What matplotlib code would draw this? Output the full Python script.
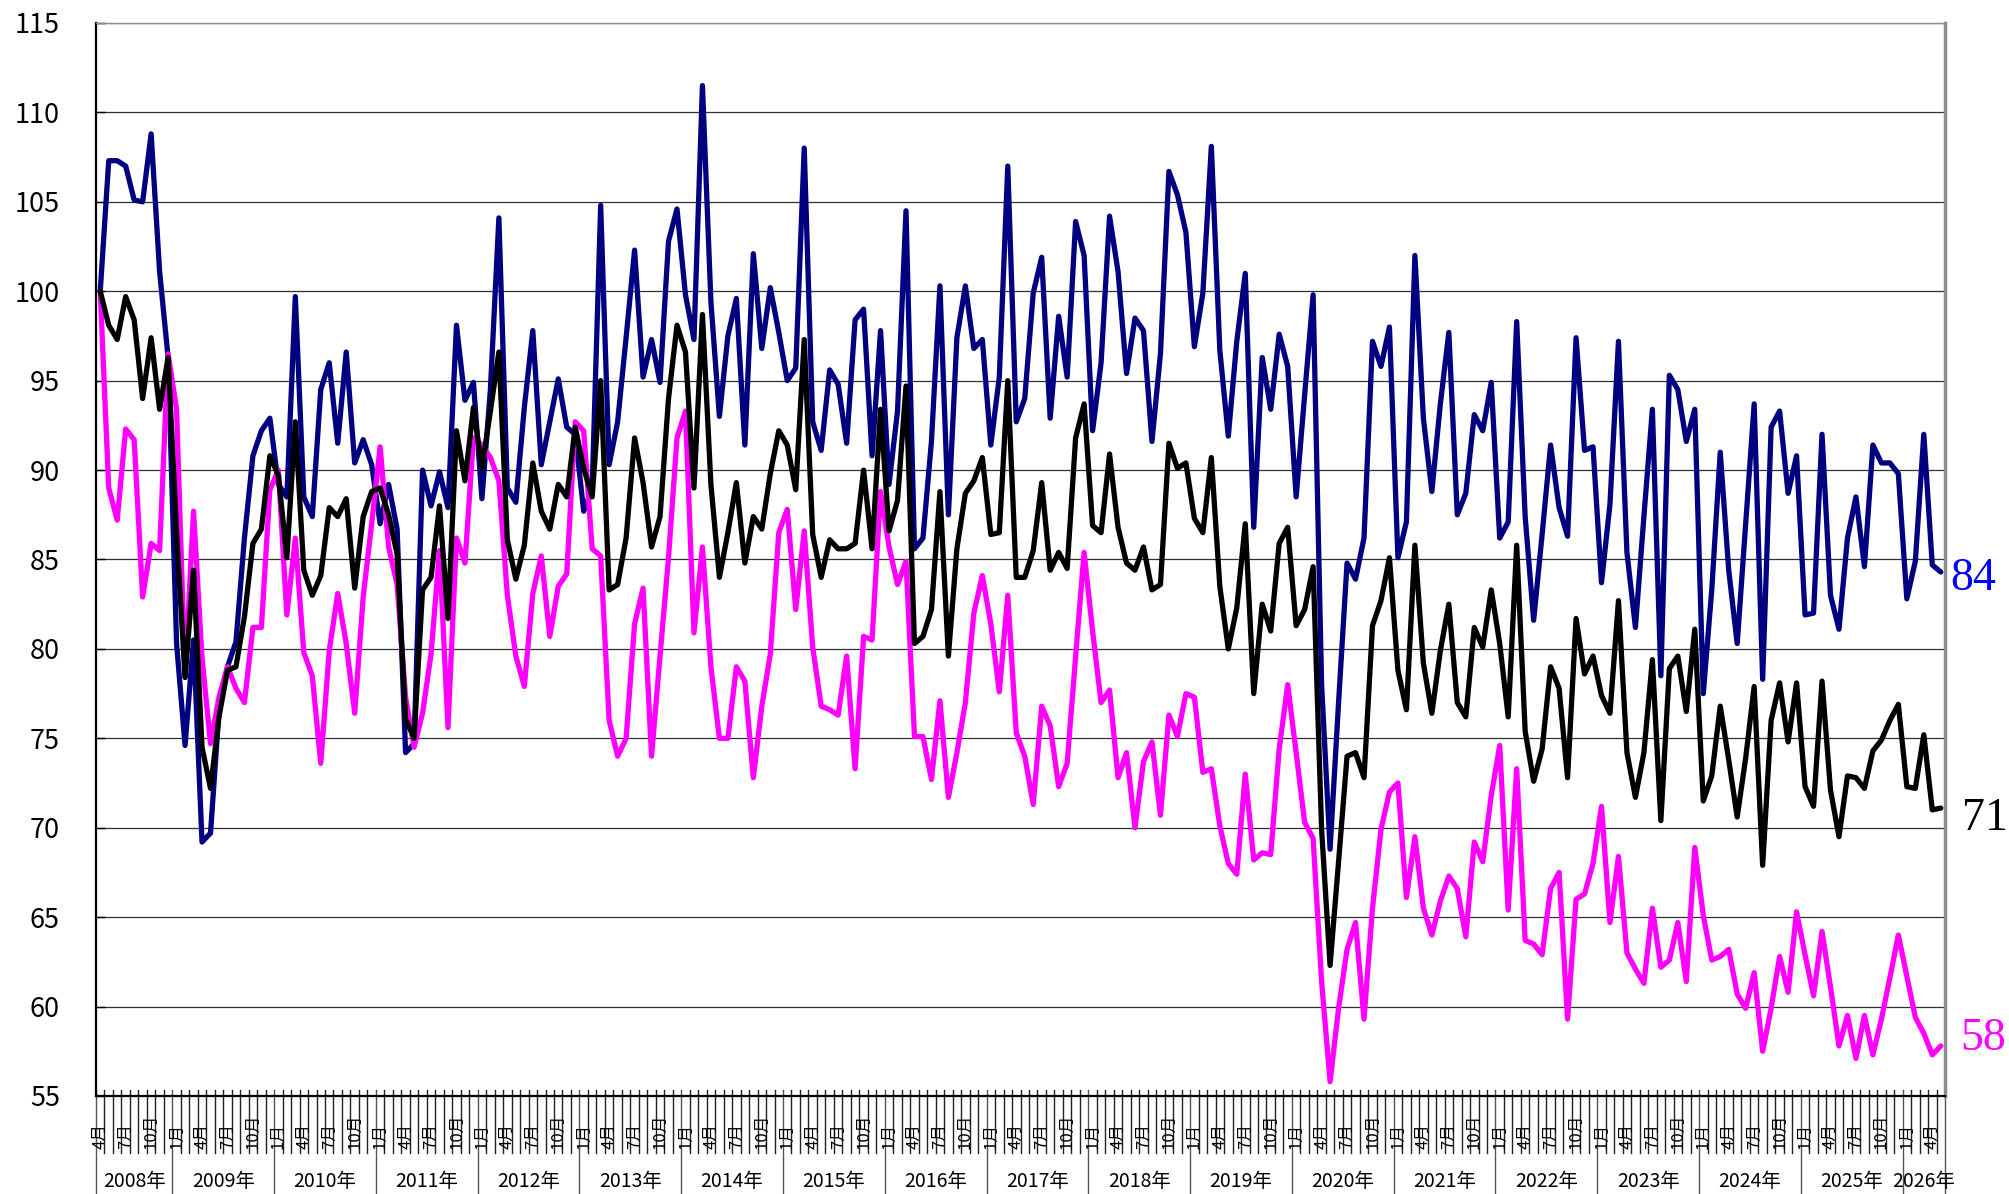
import numpy as np
import matplotlib
matplotlib.use("Agg")
import matplotlib.pyplot as plt

plt.rcParams['font.family'] = ['Noto Sans CJK JP', 'DejaVu Sans']

# monthly index, 2008年4月 = 100, through 2026年5月
navy = [100.0, 107.3, 107.3, 107.0, 105.1, 105.0, 108.8, 101.1, 96.3, 80.3, 74.6, 80.5, 69.2, 69.7, 76.5, 79.0, 80.4, 86.2, 90.8, 92.2, 92.9, 89.2, 88.5, 99.7, 88.5, 87.4, 94.5, 96.0,
        91.5, 96.6, 90.4, 91.7, 90.3, 87.0, 89.2, 86.7, 74.2, 74.7, 90.0, 88.0, 89.9, 87.9, 98.1, 93.9, 94.9, 88.4, 94.5, 104.1, 89.0, 88.2, 93.5, 97.8, 90.3, 92.7, 95.1,
        92.4, 92.0, 87.7, 89.0, 104.8, 90.3, 92.7, 97.4, 102.3, 95.2, 97.3, 94.9, 102.8, 104.6, 99.8, 97.3, 111.5, 99.4, 93.0, 97.5, 99.6, 91.4, 102.1, 96.8, 100.2, 97.7, 95.0,
        95.7, 108.0, 92.7, 91.1, 95.6, 94.8, 91.5, 98.4, 99.0, 90.8, 97.8, 89.2, 93.3, 104.5, 85.6, 86.2, 91.6, 100.3, 87.5, 97.4, 100.3, 96.8, 97.3, 91.4, 95.2, 107.0, 92.7,
        94.0, 99.9, 101.9, 92.9, 98.6, 95.2, 103.9, 102.0, 92.2, 96.0, 104.2, 101.1, 95.4, 98.5, 97.8, 91.6, 96.5, 106.7, 105.4, 103.3, 96.9, 99.9, 108.1, 96.7, 91.9, 97.2, 101.0,
        86.8, 96.3, 93.4, 97.6, 95.8, 88.5, 94.2, 99.8, 78.0, 68.8, 77.0, 84.8, 83.9, 86.2, 97.2, 95.8, 98.0, 85.1, 87.1, 102.0, 92.9, 88.8, 93.7, 97.7, 87.5, 88.7, 93.1,
        92.2, 94.9, 86.2, 87.1, 98.3, 87.4, 81.6, 86.4, 91.4, 87.9, 86.3, 97.4, 91.1, 91.3, 83.7, 88.1, 97.2, 85.4, 81.2, 87.4, 93.4, 78.5, 95.3, 94.5, 91.6, 93.4, 77.5,
        83.3, 91.0, 84.4, 80.3, 87.0, 93.7, 78.3, 92.4, 93.3, 88.7, 90.8, 81.9, 82.0, 92.0, 83.0, 81.1, 86.2, 88.5, 84.6, 91.4, 90.4, 90.4, 89.8, 82.8, 84.9, 92.0, 84.7, 84.3]

black = [100.0, 98.1, 97.3, 99.7, 98.4, 94.0, 97.4, 93.4, 96.3, 86.5, 78.4, 84.4, 74.5, 72.2, 76.2, 78.8, 79.0, 81.8, 85.9, 86.7, 90.8, 89.7, 85.1, 92.7, 84.4, 83.0, 84.1, 87.9,
         87.4, 88.4, 83.4, 87.4, 88.8, 89.0, 87.5, 85.3, 76.1, 75.0, 83.3, 84.0, 88.0, 81.7, 92.2, 89.4, 93.5, 90.1, 93.3, 96.6, 86.1, 83.9, 85.8, 90.4, 87.7, 86.7, 89.2,
         88.5, 92.4, 90.1, 88.5, 95.0, 83.3, 83.6, 86.2, 91.8, 89.3, 85.7, 87.4, 94.0, 98.1, 96.6, 89.0, 98.7, 89.2, 84.0, 86.5, 89.3, 84.8, 87.4, 86.7, 89.8, 92.2, 91.4,
         88.9, 97.3, 86.4, 84.0, 86.1, 85.6, 85.6, 85.9, 90.0, 85.6, 93.4, 86.6, 88.3, 94.7, 80.3, 80.7, 82.2, 88.8, 79.6, 85.6, 88.7, 89.4, 90.7, 86.4, 86.5, 95.0, 84.0,
         84.0, 85.5, 89.3, 84.4, 85.4, 84.5, 91.8, 93.7, 86.9, 86.5, 90.9, 86.8, 84.8, 84.4, 85.7, 83.3, 83.6, 91.5, 90.1, 90.4, 87.3, 86.5, 90.7, 83.5, 80.0, 82.3, 87.0,
         77.5, 82.5, 81.0, 85.9, 86.8, 81.3, 82.2, 84.6, 69.9, 62.3, 68.1, 74.0, 74.2, 72.8, 81.3, 82.7, 85.1, 78.8, 76.6, 85.8, 79.2, 76.4, 79.9, 82.5, 77.0, 76.2, 81.2,
         80.1, 83.3, 80.3, 76.2, 85.8, 75.4, 72.6, 74.4, 79.0, 77.8, 72.8, 81.7, 78.6, 79.6, 77.4, 76.4, 82.7, 74.2, 71.7, 74.2, 79.4, 70.4, 78.9, 79.6, 76.5, 81.1, 71.5,
         72.9, 76.8, 73.8, 70.6, 73.9, 77.9, 67.9, 76.0, 78.1, 74.8, 78.1, 72.3, 71.2, 78.2, 72.1, 69.5, 72.9, 72.8, 72.2, 74.3, 74.9, 76.0, 76.9, 72.3, 72.2, 75.2, 71.0, 71.1]

magenta = [100.0, 89.0, 87.2, 92.3, 91.7, 82.9, 85.9, 85.5, 96.5, 93.4, 78.5, 87.7, 79.5, 74.7, 77.3, 79.0, 77.8, 77.0, 81.2, 81.2, 88.9, 90.0, 81.9, 86.2, 79.8, 78.5, 73.6, 79.9,
           83.1, 80.3, 76.4, 82.9, 87.0, 91.3, 85.7, 83.6, 77.3, 74.5, 76.4, 79.7, 85.5, 75.6, 86.2, 84.8, 91.8, 91.4, 90.7, 89.4, 83.0, 79.6, 77.9, 83.1, 85.2, 80.7, 83.5,
           84.2, 92.7, 92.2, 85.6, 85.2, 76.0, 74.0, 75.0, 81.4, 83.4, 74.0, 79.6, 85.1, 91.8, 93.3, 80.9, 85.7, 79.0, 75.0, 75.0, 79.0, 78.2, 72.8, 76.8, 79.7, 86.5, 87.8,
           82.2, 86.6, 80.1, 76.8, 76.6, 76.3, 79.6, 73.3, 80.7, 80.5, 88.8, 85.7, 83.6, 84.9, 75.1, 75.1, 72.7, 77.1, 71.7, 74.2, 77.0, 82.0, 84.1, 81.4, 77.6, 83.0, 75.3,
           74.0, 71.3, 76.8, 75.7, 72.3, 73.6, 79.6, 85.4, 81.0, 77.0, 77.7, 72.8, 74.2, 70.0, 73.7, 74.8, 70.7, 76.3, 75.1, 77.5, 77.3, 73.1, 73.3, 70.1, 68.0, 67.4, 73.0,
           68.2, 68.6, 68.5, 74.4, 78.0, 74.2, 70.3, 69.4, 61.4, 55.8, 59.9, 63.2, 64.7, 59.3, 65.5, 69.9, 72.0, 72.5, 66.1, 69.5, 65.5, 64.0, 65.9, 67.3, 66.6, 63.9, 69.2,
           68.1, 71.8, 74.6, 65.4, 73.3, 63.7, 63.5, 62.9, 66.6, 67.5, 59.3, 66.0, 66.3, 68.0, 71.2, 64.7, 68.4, 63.0, 62.1, 61.3, 65.5, 62.2, 62.6, 64.7, 61.4, 68.9, 65.1,
           62.6, 62.8, 63.2, 60.7, 59.9, 61.9, 57.5, 59.9, 62.8, 60.8, 65.3, 62.9, 60.6, 64.2, 61.1, 57.8, 59.5, 57.1, 59.5, 57.3, 59.3, 61.6, 64.0, 61.7, 59.4, 58.5, 57.3, 57.8]

end_labels = ['84', '71', '58']
start_year, start_month = 2008, 4

n = len(navy)
x = np.arange(n)
month_of = [(start_month - 1 + i) % 12 + 1 for i in range(n)]
year_of = [start_year + (start_month - 1 + i) // 12 for i in range(n)]

fig = plt.figure(figsize=(20.09, 11.94), dpi=100)
ax = fig.add_axes([96 / 2009, 1 - 1096 / 1194, 1849 / 2009, 1073 / 1194])

line_kw = dict(lw=3.8, solid_joinstyle='round', solid_capstyle='round')
ax.plot(x, navy, color='#000080', zorder=3, **line_kw)
ax.plot(x, magenta, color='#FF00FF', zorder=4, **line_kw)
ax.plot(x, black, color='#000000', zorder=5, **line_kw)

ax.set_xlim(-0.5, n - 0.5)
ax.set_ylim(55, 115)
ax.set_yticks(np.arange(55, 116, 5))
ax.yaxis.grid(True, color='#303030', lw=0.9)
ax.set_axisbelow(True)
ax.tick_params(axis='y', direction='in', length=6.5, width=1, labelsize=19.5, pad=26)
ax.set_xticks([])

for side in ['left', 'bottom']:
    ax.spines[side].set_color('black')
    ax.spines[side].set_linewidth(1.6)
ax.spines['right'].set_color('#8c8c8c')
ax.spines['right'].set_linewidth(2.5)
ax.spines['top'].set_color('#8c8c8c')
ax.spines['top'].set_linewidth(1.0)

# month / year category axis drawn below the plot
tr = ax.get_xaxis_transform()
for i in range(n + 1):
    b = i - 0.5
    is_year = (i == 0) or (i == n) or month_of[i] == 1
    y_end = -0.0913 if is_year else -0.0531
    ax.plot([b, b], [0.0056, y_end], transform=tr, color='#222222' if not is_year else '#555555',
            lw=1.0, clip_on=False, zorder=1)

for i in range(n):
    if month_of[i] in (1, 4, 7, 10):
        ax.text(i, -0.0494, f'{month_of[i]}月', transform=tr, rotation=90,
                ha='center', va='bottom', fontsize=12, color='black', zorder=6)

for yr in sorted(set(year_of)):
    idx = [i for i in range(n) if year_of[i] == yr]
    cx = (idx[0] + idx[-1]) / 2
    ax.text(cx, -0.080, f'{yr}年', transform=tr, ha='center', va='center',
            fontsize=14, color='black')

# end-of-line value labels
end_colors = ['#0000FF', '#000000', '#FF00FF']
end_dx = [5, 17, 15]
end_dy = [-7, -11, 7]
for lbl, series, c, dx, dy in zip(end_labels, [navy, black, magenta], end_colors, end_dx, end_dy):
    ax.annotate(lbl, xy=(1, series[-1]), xycoords=('axes fraction', 'data'),
                xytext=(dx, dy), textcoords='offset pixels', ha='left', va='center',
                fontsize=33, color=c, family='Liberation Serif', annotation_clip=False)

fig.savefig('out.png', dpi=100, facecolor='white')
